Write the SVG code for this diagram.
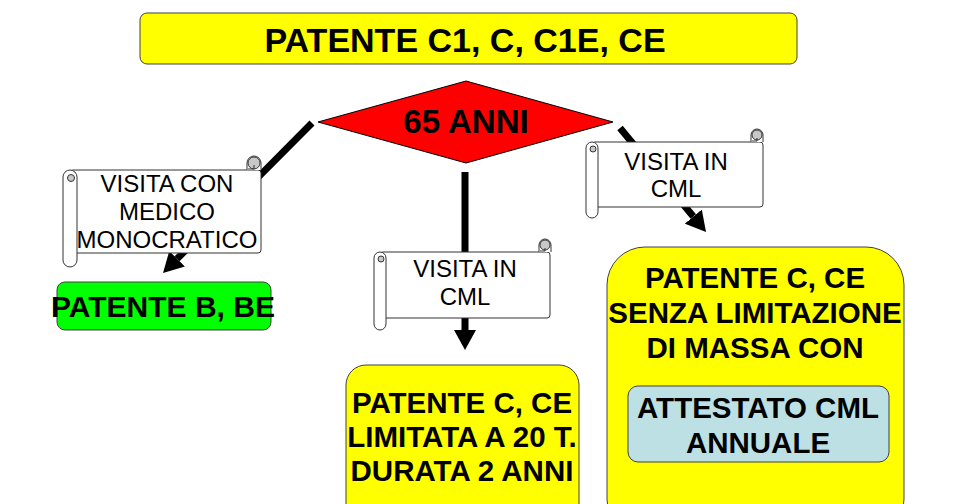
<svg xmlns="http://www.w3.org/2000/svg" width="960" height="504" viewBox="0 0 960 504">
<style>
.bx{stroke:#404040;stroke-width:1}
.bt{font-family:"Liberation Sans",Arial,sans-serif;font-weight:bold;fill:#000;text-anchor:middle}
.st{font-family:"Liberation Sans",Arial,sans-serif;font-size:24px;fill:#000;text-anchor:middle}
.sc{fill:#fff;stroke:#333;stroke-width:1}
.curl{fill:#c8c8c8;stroke:#333;stroke-width:1}
.cn{stroke:#000;stroke-width:7;fill:none;marker-end:url(#ah)}
</style>
<defs>
<marker id="ah" viewBox="0 0 20 22" refX="0" refY="11" markerWidth="20" markerHeight="22" markerUnits="userSpaceOnUse" orient="auto">
<path d="M0,0 L20,11 L0,22 z" fill="#000"/>
</marker>
</defs>
<rect width="960" height="504" fill="#fff"/>

<g id="connectors">
<line class="cn" x1="312" y1="123" x2="177.1" y2="258.8"/>
<line class="cn" x1="465" y1="172" x2="465" y2="330"/>
<line class="cn" x1="620" y1="128" x2="693.3" y2="216.6"/>
</g>

<g id="title">
<rect class="bx" x="140" y="13" width="657" height="51" rx="7" fill="#ffff00"/>
<text class="bt" x="465" y="52" font-size="34">PATENTE C1, C, C1E, CE</text>
</g>

<g id="decision">
<polygon points="318,122 466,81 613,122 466,163" fill="#ff0000" stroke="#000" stroke-width="1"/>
<text class="bt" x="466" y="133" font-size="33">65 ANNI</text>
</g>

<g id="scroll-left">
<rect class="sc" x="70" y="170" width="191" height="83" rx="3"/>
<path class="sc" d="M247,170 V163 A7,7 0 0 1 261,163 V170"/>
<circle class="curl" cx="254" cy="163" r="6"/>
<path d="M254,169 V165 M248,169 H254" stroke="#333" stroke-width="1" fill="none"/>
<rect class="sc" x="63" y="170" width="14" height="97" rx="7"/>
<circle class="curl" cx="71" cy="178" r="3.5"/>
<text class="st" x="167" y="192">VISITA CON</text>
<text class="st" x="167" y="220">MEDICO</text>
<text class="st" x="167" y="248">MONOCRATICO</text>
</g>

<g id="scroll-center">
<rect class="sc" x="380" y="252" width="170" height="66" rx="3"/>
<path class="sc" d="M539,252 V245 A6,6 0 0 1 551,245 V252"/>
<circle class="curl" cx="545" cy="245" r="5"/>
<path d="M545,251 V248 M540,251 H545" stroke="#333" stroke-width="1" fill="none"/>
<rect class="sc" x="374" y="252" width="12" height="78" rx="6"/>
<circle class="curl" cx="381" cy="259" r="3"/>
<text class="st" x="465" y="277">VISITA IN</text>
<text class="st" x="465" y="305">CML</text>
</g>

<g id="scroll-right">
<rect class="sc" x="592" y="142" width="171" height="65" rx="3"/>
<path class="sc" d="M751,142 V135 A6,6 0 0 1 763,135 V142"/>
<circle class="curl" cx="757" cy="135" r="5"/>
<path d="M757,141 V138 M752,141 H757" stroke="#333" stroke-width="1" fill="none"/>
<rect class="sc" x="586" y="142" width="12" height="76" rx="6"/>
<circle class="curl" cx="593" cy="149" r="3"/>
<text class="st" x="676" y="170">VISITA IN</text>
<text class="st" x="676" y="197">CML</text>
</g>

<g id="patente-b">
<rect class="bx" x="57" y="282" width="214" height="48" rx="8" fill="#00ff00"/>
<text class="bt" x="163" y="317" font-size="30">PATENTE B, BE</text>
</g>

<g id="patente-c-limitata">
<rect class="bx" x="346" y="365" width="233" height="170" rx="20" fill="#ffff00"/>
<text class="bt" x="462" y="413" font-size="29.5">PATENTE C, CE</text>
<text class="bt" x="462" y="447" font-size="29.5">LIMITATA A 20 T.</text>
<text class="bt" x="462" y="481" font-size="29.5">DURATA 2 ANNI</text>
</g>

<g id="patente-c-senza">
<rect class="bx" x="607" y="247" width="297" height="290" rx="38" fill="#ffff00"/>
<text class="bt" x="755" y="288" font-size="29.5">PATENTE C, CE</text>
<text class="bt" x="755" y="323" font-size="29.5">SENZA LIMITAZIONE</text>
<text class="bt" x="755" y="358" font-size="29.5">DI MASSA CON</text>
<g id="attestato">
<rect class="bx" x="628" y="386" width="261" height="76" rx="10" fill="#bde0e5"/>
<text class="bt" x="758" y="418" font-size="29.5">ATTESTATO CML</text>
<text class="bt" x="758" y="453" font-size="29.5">ANNUALE</text>
</g>
</g>
</svg>
